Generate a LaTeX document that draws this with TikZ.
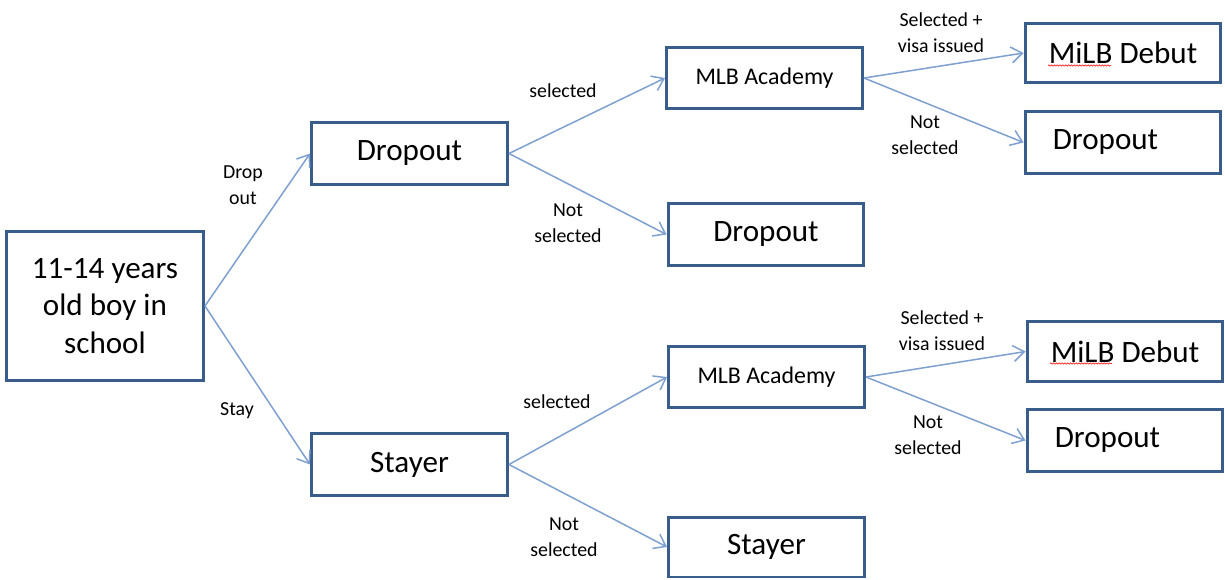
\documentclass[tikz,border=0pt]{standalone}
\usepackage{fontspec}
\setmainfont{Carlito}
\usetikzlibrary{arrows.meta,decorations.pathmorphing}

\definecolor{boxline}{RGB}{56,93,138}
\definecolor{arrowline}{RGB}{125,160,208}

\begin{document}
\begin{tikzpicture}[x=0.02cm, y=-0.02cm, >={Straight Barb[length=2.2mm, width=3.2mm]},
    box/.style={draw=boxline, line width=1.7pt, minimum width=3.92cm, minimum height=1.24cm, inner sep=0pt, align=center},
    big/.style={font=\fontsize{17.7}{21.5}\selectfont},
    lbl/.style={align=center, font=\fontsize{11.3}{14.7}\selectfont},
    link/.style={->, arrowline, line width=0.85pt},
    squiggle/.style={red!85, line width=0.4pt, decoration={snake, amplitude=0.35pt, segment length=1.6pt}, decorate}]
    \useasboundingbox (0,0) rectangle (1225,579);

    % Wurzel
    \node[box, big, minimum width=3.94cm, minimum height=2.98cm] (root) at (105,306) {11-14 years\\old boy in\\school};

    % Zweite Stufe
    \node[box, big] (drop) at (409.5,153.5) {Dropout};
    \node[box, big] (stay) at (409.5,464.5) {Stayer};

    % Dritte Stufe
    \node[box, font=\fontsize{13.6}{16}\selectfont, minimum height=1.22cm] (acadA) at (764.5,78) {MLB Academy};
    \node[box, big] (dropA) at (766,234.5) {Dropout};
    \node[box, font=\fontsize{13.6}{16}\selectfont, minimum height=1.22cm] (acadB) at (766.5,377) {MLB Academy};
    \node[box, big, minimum height=1.2cm] (stayB) at (766.5,547) {Stayer};

    % Vierte Stufe
    \node[box, big, minimum height=1.18cm] (debutA) at (1123,53) {MiLB Debut};
    \node[box, big] (dropC) at (1123,142.5) {\hspace*{-0.7cm}Dropout};
    \node[box, big, minimum height=1.2cm] (debutB) at (1125,351.5) {MiLB Debut};
    \node[box, big] (dropD) at (1125,440.5) {\hspace*{-0.7cm}Dropout};

    % Rote Wellenlinie unter "MiLB"
    \draw[squiggle] ([xshift=-1.5cm, yshift=-0.25cm]debutA.center) -- ([xshift=-0.24cm, yshift=-0.25cm]debutA.center);
    \draw[squiggle] ([xshift=-1.5cm, yshift=-0.24cm]debutB.center) -- ([xshift=-0.26cm, yshift=-0.24cm]debutB.center);

    % Verbindungen
    \draw[link] (root.east) -- (drop.west);
    \draw[link] (root.east) -- (stay.west);
    \draw[link] (drop.east) -- (acadA.west);
    \draw[link] (drop.east) -- (dropA.west);
    \draw[link] (stay.east) -- (acadB.west);
    \draw[link] (stay.east) -- (stayB.west);
    \draw[link] (acadA.east) -- (debutA.west);
    \draw[link] (acadA.east) -- (dropC.west);
    \draw[link] (acadB.east) -- (debutB.west);
    \draw[link] (acadB.east) -- (dropD.west);

    % Beschriftungen
    \node[lbl] (lDrop) at (243,185) {Drop\\out};
    \node[lbl] (lStay) at (237,411) {Stay};
    \node[lbl] (lSelA) at (563,91) {selected};
    \node[lbl] (lNotA) at (568,223) {Not\\selected};
    \node[lbl] (lVisaA) at (941,33) {Selected +\\visa issued};
    \node[lbl] (lNotC) at (925,135) {Not\\selected};
    \node[lbl] (lSelB) at (557,402) {selected};
    \node[lbl] (lNotB) at (564,537) {Not\\selected};
    \node[lbl] (lVisaB) at (942,331) {Selected +\\visa issued};
    \node[lbl] (lNotD) at (928,435) {Not\\selected};
\end{tikzpicture}
\end{document}
